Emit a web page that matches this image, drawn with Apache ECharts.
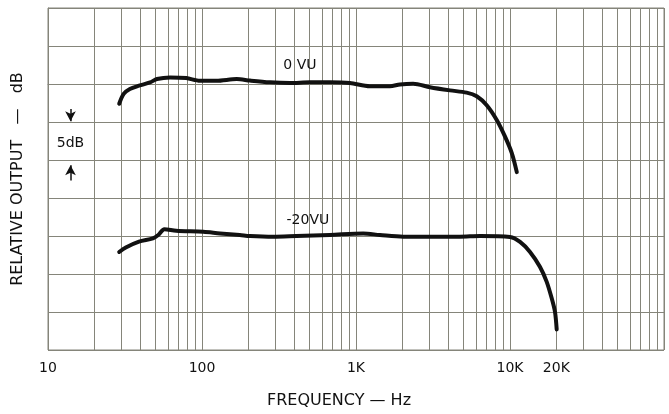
<!DOCTYPE html>
<html>
<head>
<meta charset="utf-8">
<script src="https://cdn.jsdelivr.net/npm/echarts@6/dist/echarts.min.js"></script>
<style>
html,body{margin:0;padding:0;background:#fff;}
#c{width:669px;height:414px;}
</style>
</head>
<body>
<div id="c"></div>
<script>
// 0 VU response (Hz, dB)
var vu0Freq = [29, 31, 34, 39, 46, 51, 62, 79, 97, 124, 168, 205, 276, 372, 501, 676, 912, 1230, 1660, 1930, 2350, 3020, 4080, 5230, 6080, 7060, 8200, 9270, 10260, 11070];
var vu0Db   = [-2.6, -1.3, -0.65, -0.22, 0.21, 0.65, 0.86, 0.78, 0.43, 0.43, 0.65, 0.45, 0.22, 0.13, 0.22, 0.22, 0.13, -0.3, -0.3, -0.06, 0.03, -0.42, -0.84, -1.14, -1.62, -2.8, -4.74, -6.9, -9.07, -11.6];
// -20 VU response (Hz, dB)
var vu20Freq = [29, 32, 39, 48, 52, 57, 68, 102, 131, 176, 205, 290, 411, 676, 1114, 1430, 2026, 3020, 4730, 6380, 10000, 11620, 13490, 15640, 17290, 18660, 19600, 20100];
var vu20Db   = [-22.1, -21.5, -20.73, -20.31, -19.87, -19.1, -19.32, -19.45, -19.67, -19.87, -20.0, -20.09, -20.0, -19.87, -19.67, -19.87, -20.09, -20.09, -20.09, -20.0, -20.13, -20.78, -22.1, -24.05, -26.0, -28.2, -30.0, -32.3];
// intermediate (non-decade) frequency grid lines
var minorGrid = [20,30,40,50,60,70,80,90,200,300,400,500,600,700,800,900,2000,3000,4000,5000,6000,7000,8000,9000,20000,30000,40000,50000,60000,70000,80000,90000];
// tick labels
var tickLabels = {10:'10', 100:'100', 1000:'1K', 10000:'10K'};
var extraLabel = {value: 20000, text: '20K'};
var curveLabels = [
  {name: '0 VU', freq: 432, db: 2.4},
  {name: '-20VU', freq: 487, db: -17.9}
];
var scaleNote = {text: '5dB', freq: 14, db: -7.8};

function pairs(xs, ys){ return xs.map(function(x,i){ return [x, ys[i]]; }); }

var gridColor = '#85857a';
var font = 'DejaVu Sans';

var chart = echarts.init(document.getElementById('c'), null, {renderer:'canvas'});
chart.setOption({
  backgroundColor: '#ffffff',
  animation: false,
  grid: {left: 48, top: 8, right: 5, bottom: 64, show: true, borderColor: gridColor, borderWidth: 1, backgroundColor: 'transparent'},
  xAxis: {
    type: 'log', logBase: 10, min: 10, max: 100000,
    axisLine: {show: true, lineStyle: {color: gridColor, width: 1}},
    axisTick: {show: false},
    splitLine: {show: true, lineStyle: {color: gridColor, width: 1}},
    axisLabel: {
      margin: 11, color: '#111', fontFamily: font, fontSize: 14,
      formatter: function(v){ return tickLabels[Math.round(v)] || ''; }
    },
    name: 'FREQUENCY — Hz', nameLocation: 'middle', nameGap: 43,
    nameTextStyle: {color: '#111', fontFamily: font, fontSize: 16, padding: [0, 34, 0, 0]}
  },
  yAxis: {
    type: 'value', min: -35, max: 10, interval: 5,
    axisLine: {show: true, lineStyle: {color: gridColor, width: 1}},
    axisTick: {show: false},
    axisLabel: {show: false},
    splitLine: {show: true, lineStyle: {color: gridColor, width: 1}},
    name: 'RELATIVE OUTPUT   —   dB', nameLocation: 'middle', nameGap: 22, nameRotate: 90,
    nameTextStyle: {color: '#111', fontFamily: font, fontSize: 16}
  },
  series: [
    {
      type: 'line', data: [], z: 1, silent: true,
      markLine: {
        silent: true, z: 1, symbol: ['none','none'], animation: false,
        lineStyle: {color: gridColor, width: 1, type: 'solid'},
        label: {show: false},
        emphasis: {disabled: true},
        data: minorGrid.map(function(v){ return {xAxis: v}; }).concat([
          {xAxis: extraLabel.value, label: {show: true, position: 'start', formatter: extraLabel.text, distance: 11, color: '#111', fontFamily: font, fontSize: 14}}
        ])
      }
    },
    {
      type: 'line', data: [], z: 3, silent: true,
      markLine: {
        silent: true, z: 3, symbol: ['none','arrow'], symbolSize: [8, 10], animation: false,
        lineStyle: {color: '#111', width: 1.5, type: 'solid'},
        label: {show: false},
        data: [
          [{coord: [scaleNote.freq, -3.3]}, {coord: [scaleNote.freq, -4.9]}],
          [{coord: [scaleNote.freq, -12.7]}, {coord: [scaleNote.freq, -10.7]}]
        ]
      },
      markPoint: {
        silent: true, symbol: 'rect', symbolSize: 1, itemStyle: {color: 'rgba(0,0,0,0)'},
        label: {show: true, position: 'inside', color: '#111', fontFamily: font, fontSize: 14, formatter: '{b}'},
        data: [{name: scaleNote.text, coord: [scaleNote.freq, scaleNote.db]}].concat(
          curveLabels.map(function(l){ return {name: l.name, coord: [l.freq, l.db]}; }))
      }
    },
    {
      name: '0 VU', type: 'line', data: pairs(vu0Freq, vu0Db), smooth: 0.3, showSymbol: false, z: 4,
      lineStyle: {color: '#111', width: 4, cap: 'round', join: 'round'}
    },
    {
      name: '-20 VU', type: 'line', data: pairs(vu20Freq, vu20Db), smooth: 0.3, showSymbol: false, z: 4,
      lineStyle: {color: '#111', width: 4, cap: 'round', join: 'round'}
    }
  ]
});
</script>
</body>
</html>
